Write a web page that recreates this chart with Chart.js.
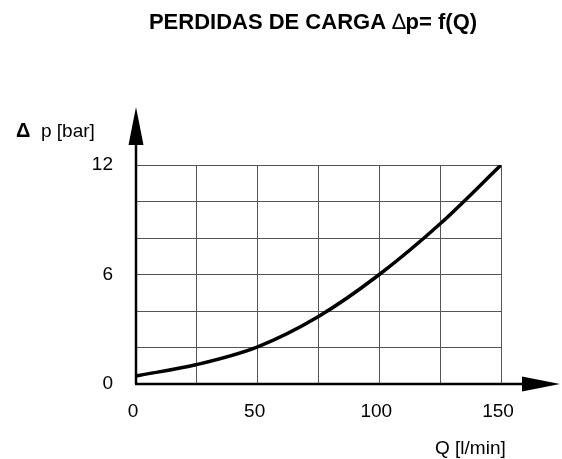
<!DOCTYPE html>
<html>
<head>
<meta charset="utf-8">
<script src="https://cdn.jsdelivr.net/npm/chart.js@4"></script>
<style>
  html, body { margin: 0; padding: 0; background: #fff; }
  #wrap { width: 562px; height: 459px; }
</style>
</head>
<body>
<div id="wrap"><canvas id="chart" width="562" height="459"></canvas></div>
<script>
// values
const flowQ = [0, 25, 50, 75, 100, 125, 150];           // Q [l/min]
const pressureDrop = [0.44, 1.07, 2.04, 3.7, 6.0, 8.78, 12.0]; // delta p [bar]
const xLabelValues = [0, 50, 100, 150];
const yLabelValues = [0, 6, 12];

// title is drawn in pieces: the delta sign is not bold in the original
const titleParts = [
    { text: 'PERDIDAS DE CARGA ', bold: true },
    { text: '\u2206', bold: false },
    { text: 'p= f(Q)', bold: true }
];
const xTitle = 'Q [l/min]';
const yTitle = 'p [bar]';

const FONT = "'Liberation Sans', Arial, sans-serif";

// axes with arrow heads + free text
const axesPlugin = {
    id: 'axesArrows',
    afterDraw(chart) {
        const ctx = chart.ctx;
        const x = chart.scales.x;
        const y = chart.scales.y;
        const ox = x.getPixelForValue(0);
        const oy = y.getPixelForValue(0);

        ctx.save();
        ctx.strokeStyle = '#000';
        ctx.fillStyle = '#000';
        ctx.lineWidth = 2.5;

        // vertical axis
        const yTip = y.top - 58;
        ctx.beginPath();
        ctx.moveTo(ox, oy);
        ctx.lineTo(ox, yTip + 30);
        ctx.stroke();
        ctx.beginPath();
        ctx.moveTo(ox, yTip);
        ctx.lineTo(ox - 7.5, yTip + 38);
        ctx.lineTo(ox + 7.5, yTip + 38);
        ctx.closePath();
        ctx.fill();

        // horizontal axis
        const xTip = x.right + 59;
        ctx.beginPath();
        ctx.moveTo(ox - 1, oy);
        ctx.lineTo(xTip - 30, oy);
        ctx.stroke();
        ctx.beginPath();
        ctx.moveTo(xTip, oy);
        ctx.lineTo(xTip - 38, oy - 7.5);
        ctx.lineTo(xTip - 38, oy + 7.5);
        ctx.closePath();
        ctx.fill();

        // title
        ctx.textBaseline = 'alphabetic';
        ctx.textAlign = 'left';
        let total = 0;
        titleParts.forEach(p => {
            ctx.font = (p.bold ? 'bold ' : '') + '22px ' + FONT;
            p.w = ctx.measureText(p.text).width;
            total += p.w;
        });
        let tx = 313 - total / 2;
        titleParts.forEach(p => {
            ctx.font = (p.bold ? 'bold ' : '') + '22px ' + FONT;
            ctx.fillText(p.text, tx, 29);
            tx += p.w;
        });

        // axis titles
        ctx.font = 'bold 20px ' + FONT;
        ctx.fillText('\u0394', 16, 137);
        ctx.font = '19px ' + FONT;
        ctx.fillText(yTitle, 41, 137);
        ctx.fillText(xTitle, 435, 454);
        ctx.restore();
    }
};

new Chart(document.getElementById('chart'), {
    type: 'line',
    data: {
        datasets: [{
            data: flowQ.map((q, i) => ({ x: q, y: pressureDrop[i] })),
            borderColor: '#000',
            borderWidth: 3.5,
            pointRadius: 0,
            cubicInterpolationMode: 'monotone',
            fill: false
        }]
    },
    options: {
        responsive: false,
        animation: false,
        layout: {
            padding: { left: 0, right: 61, top: 165, bottom: 0 }
        },
        plugins: {
            legend: { display: false },
            tooltip: { enabled: false }
        },
        scales: {
            x: {
                type: 'linear',
                min: 0,
                max: 150,
                border: { display: false },
                grid: { color: '#555', lineWidth: 1, drawTicks: false },
                afterFit(scale) { scale.height = 75; },
                ticks: {
                    stepSize: 25,
                    padding: 16,
                    labelOffset: -3,
                    color: '#000',
                    font: { family: FONT, size: 19 },
                    callback: (v) => xLabelValues.includes(v) ? String(v) : ''
                }
            },
            y: {
                min: 0,
                max: 12,
                border: { display: false },
                grid: { color: '#555', lineWidth: 1, drawTicks: false },
                afterFit(scale) { scale.width = 136; },
                ticks: {
                    stepSize: 2,
                    padding: 23,
                    color: '#000',
                    font: { family: FONT, size: 19 },
                    callback: (v) => yLabelValues.includes(v) ? String(v) : ''
                }
            }
        }
    },
    plugins: [axesPlugin]
});
</script>
</body>
</html>
